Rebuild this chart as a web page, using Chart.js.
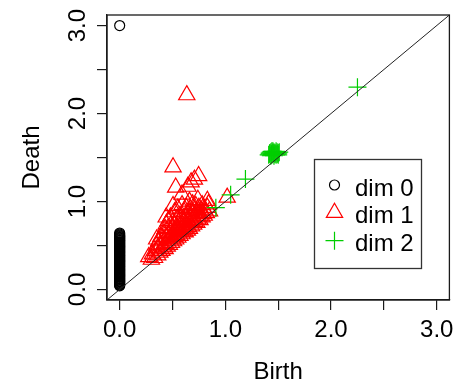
<!DOCTYPE html>
<html lang="en">
<head>
  <meta charset="UTF-8">
  <meta name="viewport" content="width=device-width, initial-scale=1.0">
  <title>Persistence diagram</title>
  <style>
    body { margin: 0; background: #fff; }
    #diagrama { display: block; }
  </style>
</head>
<body>
  <canvas id="diagrama" width="460" height="382"></canvas>

  <script src="https://cdn.jsdelivr.net/npm/chart.js"></script>

  <script>
    // axes: same range on both, ticks every 0.5, labels only on whole numbers
    const axisLimits = [-0.12, 3.12];
    const tickValues = [0, 0.5, 1, 1.5, 2, 2.5, 3];
    const tickLabels = ["0.0", "", "1.0", "", "2.0", "", "3.0"];
    const legendLabels = ["dim 0", "dim 1", "dim 2"];

    // dim 0: every feature is born at 0
    const dim0Birth = 0;
    const dim0Death = [
      3.000, 0.641, 0.628, 0.617, 0.609, 0.600, 0.592, 0.583, 0.575, 0.566,
      0.558, 0.551, 0.542, 0.534, 0.525, 0.518, 0.509, 0.501, 0.492, 0.485,
      0.476, 0.468, 0.459, 0.452, 0.443, 0.435, 0.426, 0.419, 0.410, 0.402,
      0.393, 0.386, 0.377, 0.369, 0.360, 0.353, 0.344, 0.336, 0.327, 0.320,
      0.311, 0.303, 0.294, 0.287, 0.278, 0.270, 0.261, 0.254, 0.245, 0.237,
      0.228, 0.221, 0.212, 0.204, 0.195, 0.188, 0.179, 0.171, 0.162, 0.155,
      0.146, 0.138, 0.129, 0.122, 0.113, 0.105, 0.096, 0.089, 0.080, 0.072,
      0.063, 0.056, 0.048, 0.041
    ];

    // dim 1 (birth, death) pairs
    const dim1Birth = [
      0.635, 0.505, 0.747, 0.707, 0.676, 0.645, 0.530, 0.590, 0.830, 1.017,
      0.505, 0.460, 0.430, 0.350, 0.275, 0.300, 0.310, 0.330, 0.340, 0.360,
      0.360, 0.370, 0.380, 0.390, 0.390, 0.400, 0.410, 0.410, 0.420, 0.430,
      0.430, 0.440, 0.440, 0.450, 0.450, 0.460, 0.460, 0.470, 0.470, 0.480,
      0.480, 0.490, 0.490, 0.500, 0.500, 0.500, 0.510, 0.510, 0.520, 0.520,
      0.520, 0.530, 0.530, 0.540, 0.540, 0.550, 0.550, 0.550, 0.560, 0.560,
      0.570, 0.570, 0.580, 0.580, 0.590, 0.590, 0.590, 0.600, 0.600, 0.610,
      0.610, 0.620, 0.620, 0.620, 0.630, 0.630, 0.640, 0.640, 0.650, 0.650,
      0.660, 0.660, 0.660, 0.670, 0.670, 0.680, 0.680, 0.690, 0.690, 0.700,
      0.700, 0.710, 0.710, 0.720, 0.720, 0.730, 0.730, 0.740, 0.740, 0.750,
      0.750, 0.760, 0.760, 0.770, 0.780, 0.780, 0.790, 0.800, 0.800, 0.820,
      0.830, 0.850, 0.840, 0.350, 0.440
    ];
    const dim1Death = [
      2.210, 1.390, 1.290, 1.250, 1.220, 1.170, 1.160, 1.080, 1.010, 1.045,
      0.950, 0.780, 0.690, 0.500, 0.370, 0.340, 0.400, 0.360, 0.440, 0.390,
      0.470, 0.550, 0.420, 0.510, 0.600, 0.440, 0.480, 0.570, 0.640, 0.460,
      0.520, 0.590, 0.740, 0.490, 0.550, 0.630, 0.700, 0.510, 0.580, 0.660,
      0.820, 0.530, 0.610, 0.570, 0.700, 0.760, 0.550, 0.640, 0.600, 0.730,
      0.880, 0.570, 0.670, 0.620, 0.800, 0.590, 0.700, 0.920, 0.650, 0.760,
      0.610, 0.840, 0.680, 0.730, 0.630, 0.790, 0.960, 0.660, 0.710, 0.880,
      0.760, 0.650, 0.690, 0.820, 0.740, 0.930, 0.670, 0.790, 0.710, 0.860,
      0.690, 0.760, 1.000, 0.820, 0.910, 0.720, 0.780, 0.860, 0.970, 0.740,
      0.810, 0.900, 0.770, 0.840, 0.950, 0.760, 0.880, 0.800, 1.020, 0.860,
      0.930, 0.790, 0.830, 0.900, 0.820, 0.960, 0.860, 0.840, 0.910, 0.870,
      0.930, 0.890, 0.970, 0.570, 0.820
    ];

    // dim 2 (birth, death) pairs
    const dim2Birth = [
      0.910, 1.050, 1.190, 2.250, 1.410, 1.420, 1.430, 1.430, 1.440, 1.440,
      1.450, 1.450, 1.460, 1.460, 1.470, 1.470, 1.480, 1.480, 1.490, 1.490,
      1.500, 1.510, 1.420, 1.460, 1.500, 1.440
    ];
    const dim2Death = [
      0.930, 1.076, 1.255, 2.300, 1.530, 1.550, 1.520, 1.560, 1.540, 1.530,
      1.550, 1.570, 1.520, 1.560, 1.540, 1.550, 1.530, 1.570, 1.540, 1.560,
      1.550, 1.560, 1.540, 1.545, 1.530, 1.570
    ];

    const colores = ["#000000", "#FF0000", "#00CD00"];
    const fuente = "'Liberation Sans', Arial, sans-serif";

    const pares = (xs, ys) => xs.map((x, i) => ({ x: x, y: ys[i] }));

    // box around the plotting region
    const marco = {
      id: "marco",
      afterDraw(chart) {
        const { ctx, chartArea: a } = chart;
        ctx.save();
        ctx.strokeStyle = "#1a1a1a";
        ctx.lineWidth = 1.3;
        ctx.strokeRect(a.left, a.top, a.right - a.left, a.bottom - a.top);
        ctx.restore();
      }
    };

    // vertical tick labels on the y axis, read bottom to top
    const etiquetasY = {
      id: "etiquetasY",
      afterDraw(chart) {
        const ctx = chart.ctx;
        const escala = chart.scales.y;
        ctx.save();
        ctx.font = "24px " + fuente;
        ctx.fillStyle = "#000";
        ctx.textAlign = "center";
        ctx.textBaseline = "alphabetic";
        escala.ticks.forEach((t, i) => {
          const texto = tickLabels[i];
          if (!texto) return;
          ctx.save();
          ctx.translate(85, escala.getPixelForValue(t.value));
          ctx.rotate(-Math.PI / 2);
          ctx.fillText(texto, 0, 0);
          ctx.restore();
        });
        ctx.restore();
      }
    };

    // boxed legend in the lower right of the plot
    const leyenda = {
      id: "leyenda",
      afterDraw(chart) {
        const ctx = chart.ctx;
        ctx.save();
        ctx.strokeStyle = "#333";
        ctx.lineWidth = 1.3;
        ctx.strokeRect(314.5, 159.5, 107, 109);

        const filas = [185, 212.7, 240.7];
        const mx = 334.5;
        ctx.lineWidth = 1.2;
        filas.forEach((fy, i) => {
          ctx.strokeStyle = colores[i];
          ctx.beginPath();
          if (i === 0) {
            ctx.arc(mx, fy, 5, 0, Math.PI * 2);
          } else if (i === 1) {
            const r = 9.4;
            ctx.moveTo(mx, fy - r);
            ctx.lineTo(mx + r * 0.866, fy + r / 2);
            ctx.lineTo(mx - r * 0.866, fy + r / 2);
            ctx.closePath();
          } else {
            ctx.moveTo(mx - 9, fy);
            ctx.lineTo(mx + 9, fy);
            ctx.moveTo(mx, fy - 9);
            ctx.lineTo(mx, fy + 9);
          }
          ctx.stroke();

          ctx.fillStyle = "#000";
          ctx.font = "24px " + fuente;
          ctx.textAlign = "left";
          ctx.textBaseline = "alphabetic";
          ctx.fillText(legendLabels[i], 355, fy + 10.5);
        });
        ctx.restore();
      }
    };

    const ejeComun = {
      type: "linear",
      min: axisLimits[0],
      max: axisLimits[1],
      afterBuildTicks: escala => {
        escala.ticks = tickValues.map(v => ({ value: v }));
      },
      grid: {
        drawOnChartArea: false,
        drawTicks: true,
        tickLength: 10,
        color: "#1a1a1a",
        lineWidth: 1.2
      },
      border: { display: true, color: "#1a1a1a", width: 1.3 }
    };

    document.addEventListener("DOMContentLoaded", () => {
      const lienzo = document.getElementById("diagrama");

      new Chart(lienzo, {
        type: "scatter",
        data: {
          datasets: [
            {
              label: "diagonal",
              data: [
                { x: axisLimits[0], y: axisLimits[0] },
                { x: axisLimits[1], y: axisLimits[1] }
              ],
              showLine: true,
              borderColor: "#222",
              borderWidth: 1,
              pointRadius: 0
            },
            {
              label: legendLabels[2],
              data: pares(dim2Birth, dim2Death),
              pointStyle: "cross",
              pointRadius: 9,
              borderColor: colores[2],
              borderWidth: 1.2,
              backgroundColor: "rgba(0,0,0,0)"
            },
            {
              label: legendLabels[1],
              data: pares(dim1Birth, dim1Death),
              pointStyle: "triangle",
              pointRadius: 9.4,
              borderColor: colores[1],
              borderWidth: 1.2,
              backgroundColor: "rgba(0,0,0,0)"
            },
            {
              label: legendLabels[0],
              data: dim0Death.map(d => ({ x: dim0Birth, y: d })),
              pointStyle: "circle",
              pointRadius: 5,
              borderColor: colores[0],
              borderWidth: 1.2,
              backgroundColor: "rgba(0,0,0,0)"
            }
          ]
        },
        options: {
          responsive: false,
          animation: false,
          events: [],
          layout: { padding: { top: 15, right: 4, left: 0, bottom: 0 } },
          plugins: {
            legend: { display: false },
            tooltip: { enabled: false }
          },
          scales: {
            x: {
              ...ejeComun,
              position: "bottom",
              ticks: {
                autoSkip: false,
                maxRotation: 0,
                padding: 6,
                color: "#000",
                font: { size: 24, family: fuente },
                callback: (v, i) => tickLabels[i]
              },
              title: {
                display: true,
                text: "Birth",
                color: "#000",
                font: { size: 24, family: fuente, lineHeight: 1 },
                padding: { top: 0, bottom: -2.5 }
              },
              afterFit: escala => {
                escala.height = 82;
                escala.paddingLeft = 0;
                escala.paddingRight = 0;
              }
            },
            y: {
              ...ejeComun,
              position: "left",
              ticks: { display: false },
              title: {
                display: true,
                text: "Death",
                color: "#000",
                font: { size: 24, family: fuente, lineHeight: 1.2 },
                padding: { top: 18.3, bottom: 0 }
              },
              afterFit: escala => {
                escala.width = 107;
                escala.paddingTop = 0;
                escala.paddingBottom = 0;
              }
            }
          }
        },
        plugins: [marco, etiquetasY, leyenda]
      });
    });
  </script>
</body>
</html>
